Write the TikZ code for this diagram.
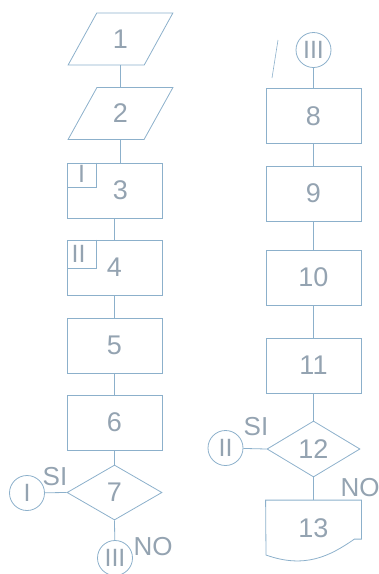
\documentclass[tikz,border=0pt]{standalone}
\usepackage{fontspec}
\setmainfont{Liberation Sans}
\usepackage{tikz}
\usetikzlibrary{shapes.geometric, positioning, calc}

\definecolor{inkline}{RGB}{140,176,203}
\definecolor{inktext}{RGB}{148,163,177}

\tikzset{
  flowline/.style={draw=inkline, line width=0.8pt},
  procbox/.style={flowline, rectangle, minimum width=95pt, minimum height=55pt, inner sep=0pt, text=inktext, font=\fontsize{27}{27}\selectfont},
  iobox/.style={flowline, trapezium, trapezium left angle=64, trapezium right angle=116, trapezium stretches=true, minimum width=105pt, minimum height=52pt, inner sep=0pt, text=inktext, font=\fontsize{27}{27}\selectfont},
  testbox/.style={flowline, diamond, minimum width=95pt, minimum height=55pt, inner sep=0pt, text=inktext, font=\fontsize{27}{27}\selectfont},
  linkdot/.style={flowline, circle, minimum size=35pt, inner sep=0pt, text=inktext, font=\fontsize{25}{25}\selectfont},
  answer/.style={text=inktext, inner sep=0pt, font=\fontsize{26}{26}\selectfont},
  subtag/.style={text=inktext, inner sep=0pt, font=\fontsize{25}{25}\selectfont}
}

\begin{document}
\begin{tikzpicture}[x=1pt, y=-1pt]
\useasboundingbox (0,0) rectangle (379,574);

% left column
\node[iobox] (p1) at (120.5,39) {1};
\node[iobox] (p2) at (120.5,113.5) {2};
\node[procbox] (b3) at (114.5,190.5) {\hspace*{12pt}3};
\node[procbox] (b4) at (114.5,267.5) {4};
\node[procbox] (b5) at (114.5,345.5) {5};
\node[procbox] (b6) at (114.5,422.5) {6};
\node[testbox] (d7) at (114.5,492.5) {7};
\node[linkdot] (cI) at (27,493) {I};
\node[linkdot] (cIIIb) at (115,558) {III};
\node[answer] (si7) at (55,477) {SI};
\node[answer] (no7) at (153,547) {NO};

% tags in the corner of 3 and 4
\draw[flowline] (b3.north west) ++(30,0) -- ++(0,25) -- ++(-30,0);
\node[subtag] (t3) at ($(b3.north west)+(15,11)$) {I};
\draw[flowline] (b4.north west) ++(30,0) -- ++(0,29) -- ++(-30,0);
\node[subtag] (t4) at ($(b4.north west)+(12,14)$) {II};

\draw[flowline] (p1.south) -- (p2.north);
\draw[flowline] (p2.south) -- (p2.south |- b3.north);
\draw[flowline] (b3) -- (b4);
\draw[flowline] (b4) -- (b5);
\draw[flowline] (b5) -- (b6);
\draw[flowline] (b6) -- (d7);
\draw[flowline] (d7.west) -- (cI);
\draw[flowline] (d7.south) -- (cIIIb);

% right column
\node[linkdot] (cIIIt) at (313.5,50) {III};
\node[procbox] (b8) at (313.5,116) {8};
\node[procbox] (b9) at (313.5,193.5) {9};
\node[procbox] (b10) at (313.5,277.5) {10};
\node[procbox] (b11) at (313.5,365.5) {11};
\node[testbox, minimum width=93pt, minimum height=56pt] (d12) at (313.5,449) {12};
\node[linkdot] (cII) at (225.5,448) {II};
\node[answer] (si12) at (256,427) {SI};
\node[answer] (no12) at (360,488) {NO};
\node[procbox, draw=none] (n13) at (313.5,528) {13};
\draw[flowline] (n13.north west) -- (n13.north east) -- ++(0,39) -- ++(-7,0)
  .. controls (330,556) and (305,569) .. (266,555) -- cycle;

\draw[flowline] (cIIIt) -- (b8);
\draw[flowline] (b8) -- (b9);
\draw[flowline] (b9) -- (b10);
\draw[flowline] (b10) -- (b11);
\draw[flowline] (b11) -- (d12);
\draw[flowline] (d12.west) -- (cII);
\draw[flowline] (d12.south) -- (n13.north);

% stray pen mark
\draw[flowline, line width=0.6pt] (272,78) -- (278,40);

\end{tikzpicture}
\end{document}
